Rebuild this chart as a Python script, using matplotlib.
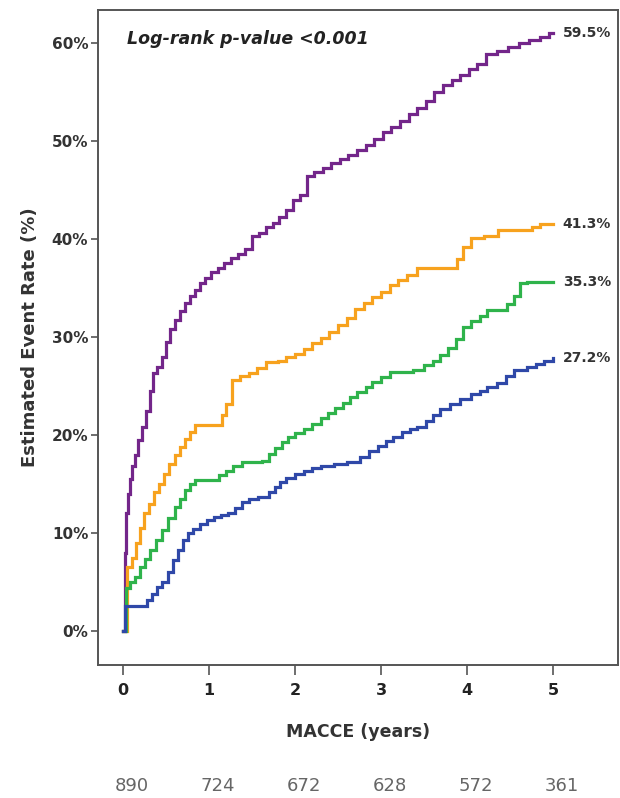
#!/usr/bin/env python3

"""
<file>    plot.py
<brief>   cumulative MACCE event rate by group (KM style step curves)
"""

import matplotlib
matplotlib.use("Agg")
import matplotlib.pyplot as plt
import matplotlib.transforms as mtransforms

# years / estimated event rate (%)
purple_t = [0, 0.02, 0.04, 0.06, 0.08, 0.10, 0.14, 0.18, 0.22, 0.27, 0.31, 0.35, 0.40, 0.45,
            0.50, 0.55, 0.60, 0.66, 0.72, 0.78, 0.84, 0.90, 0.95, 1.02, 1.10, 1.18, 1.26, 1.34,
            1.42, 1.50, 1.58, 1.66, 1.74, 1.82, 1.90, 1.98, 2.06, 2.14, 2.22, 2.32, 2.42, 2.52,
            2.62, 2.72, 2.82, 2.92, 3.02, 3.12, 3.22, 3.32, 3.42, 3.52, 3.62, 3.72, 3.82, 3.92,
            4.02, 4.12, 4.22, 4.35, 4.48, 4.60, 4.72, 4.85, 4.95, 5.0]
purple_p = [0, 8, 12, 14, 15.5, 16.8, 18, 19.5, 20.8, 22.5, 24.5, 26.3, 27, 28,
            29.5, 30.8, 31.8, 32.7, 33.5, 34.2, 34.8, 35.5, 36, 36.6, 37.1, 37.6, 38.1, 38.5,
            39, 40.3, 40.6, 41.2, 41.7, 42.3, 43, 44, 44.5, 46.5, 46.9, 47.3, 47.8, 48.2,
            48.6, 49.1, 49.6, 50.2, 50.9, 51.5, 52.1, 52.8, 53.4, 54.1, 55, 55.7, 56.2, 56.8,
            57.4, 57.9, 58.9, 59.2, 59.6, 60, 60.3, 60.6, 61.1, 61.1]

orange_t = [0, 0.05, 0.10, 0.15, 0.20, 0.25, 0.30, 0.36, 0.42, 0.48, 0.54, 0.60, 0.66, 0.72,
            0.78, 0.84, 1.10, 1.15, 1.20, 1.27, 1.36, 1.46, 1.56, 1.66, 1.80, 1.90, 2.00, 2.10,
            2.20, 2.30, 2.40, 2.50, 2.60, 2.70, 2.80, 2.90, 3.00, 3.10, 3.20, 3.30, 3.42, 3.88,
            3.95, 4.05, 4.20, 4.36, 4.75, 4.85, 5.0]
orange_p = [0, 6.5, 7.5, 9, 10.5, 12, 13, 14.2, 15, 16, 17, 18, 18.8, 19.6,
            20.3, 21, 21, 22, 23.2, 25.6, 26, 26.3, 26.8, 27.5, 27.6, 28, 28.3, 28.8,
            29.4, 29.9, 30.5, 31.2, 32, 32.9, 33.5, 34.1, 34.6, 35.3, 35.8, 36.3, 37.1, 38,
            39.2, 40.1, 40.3, 40.9, 41.2, 41.5, 41.5]

green_t = [0, 0.04, 0.08, 0.14, 0.20, 0.26, 0.32, 0.39, 0.45, 0.52, 0.60, 0.66, 0.72, 0.78,
           0.84, 1.05, 1.12, 1.20, 1.28, 1.38, 1.62, 1.70, 1.77, 1.85, 1.92, 2.00, 2.10, 2.20,
           2.30, 2.38, 2.46, 2.56, 2.64, 2.72, 2.82, 2.90, 3.00, 3.10, 3.37, 3.50, 3.60, 3.69,
           3.78, 3.87, 3.95, 4.05, 4.15, 4.23, 4.47, 4.55, 4.62, 4.70, 5.0]
green_p = [0, 4.4, 5, 5.5, 6.5, 7.3, 8.3, 9.3, 10.3, 11.5, 12.7, 13.5, 14.4, 15,
           15.4, 15.4, 15.9, 16.3, 16.8, 17.3, 17.4, 18.1, 18.7, 19.3, 19.8, 20.2, 20.6, 21.1,
           21.7, 22.3, 22.8, 23.3, 23.9, 24.4, 24.9, 25.4, 25.9, 26.4, 26.6, 27.2, 27.6, 28.2,
           28.9, 29.8, 31, 31.6, 32.2, 32.8, 33.4, 34.2, 35.5, 35.6, 35.6]

blue_t = [0, 0.03, 0.22, 0.28, 0.34, 0.40, 0.46, 0.52, 0.58, 0.64, 0.70, 0.76, 0.82, 0.90,
          0.98, 1.06, 1.14, 1.22, 1.30, 1.38, 1.46, 1.57, 1.70, 1.77, 1.83, 1.90, 2.00, 2.10,
          2.20, 2.30, 2.45, 2.60, 2.76, 2.86, 2.96, 3.06, 3.14, 3.24, 3.34, 3.42, 3.52, 3.60,
          3.69, 3.80, 3.92, 4.05, 4.15, 4.23, 4.35, 4.45, 4.55, 4.70, 4.80, 4.90, 5.0]
blue_p = [0, 2.6, 2.6, 3.2, 3.8, 4.5, 5.0, 6.0, 7.2, 8.3, 9.3, 10.0, 10.4, 10.9,
          11.3, 11.6, 11.8, 12.0, 12.6, 13.2, 13.5, 13.7, 14.2, 14.7, 15.2, 15.6, 16.0, 16.3,
          16.6, 16.8, 17.0, 17.3, 17.8, 18.4, 18.9, 19.4, 19.8, 20.3, 20.6, 20.8, 21.4, 22.0,
          22.7, 23.2, 23.7, 24.2, 24.5, 24.9, 25.3, 26.0, 26.6, 26.9, 27.3, 27.6, 27.9]

end_labels = ["59.5%", "41.3%", "35.3%", "27.2%"]
colors = ["#73268a", "#f7a21e", "#2fb34b", "#2f48a8"]

at_risk_years = [0, 1, 2, 3, 4, 5]
at_risk = [890, 724, 672, 628, 572, 361]

fig = plt.figure(figsize=(6.2, 7.98), dpi=100)
ax = fig.add_axes([0.158, 0.1667, 0.839, 0.8208])

series = [(purple_t, purple_p), (orange_t, orange_p), (green_t, green_p), (blue_t, blue_p)]
for (t, p), c, lab in zip(series, colors, end_labels):
    ax.plot(t, p, drawstyle="steps-post", color=c, lw=2.3, solid_joinstyle="miter")
    ax.annotate(lab, xy=(t[-1], p[-1]), xytext=(7, 0), textcoords="offset points",
                va="center", ha="left", fontsize=10, fontweight="bold", color="#333333")

ax.set_xlim(-0.29, 5.756)
ax.set_ylim(-3.47, 63.4)
ax.set_xticks(at_risk_years)
ax.set_yticks([0, 10, 20, 30, 40, 50, 60])
ax.set_yticklabels(["0%", "10%", "20%", "30%", "40%", "50%", "60%"])

for s in ax.spines.values():
    s.set_color("#555555")
    s.set_linewidth(1.4)
ax.tick_params(axis="y", direction="out", length=5, width=1.2, color="#555555",
               labelsize=11, labelcolor="#333333", pad=2)
ax.tick_params(axis="x", direction="out", length=7, width=1.2, color="#555555",
               labelsize=11.5, labelcolor="#222222", pad=6)
for lbl in ax.get_xticklabels() + ax.get_yticklabels():
    lbl.set_fontweight("bold")

ax.set_ylabel("Estimated Event Rate (%)", fontsize=13, fontweight="bold",
              color="#333333", labelpad=9)
ax.set_xlabel("MACCE (years)", fontsize=12.5, fontweight="bold", color="#333333",
              labelpad=18)

ax.text(0.055, 0.955, "Log-rank p-value <0.001", transform=ax.transAxes, fontsize=12.5,
        fontweight="bold", fontstyle="italic", color="#222222", va="center", ha="left")

# numbers at risk under the x axis
trans = mtransforms.blended_transform_factory(ax.transData, fig.transFigure)
for yr, n in zip(at_risk_years, at_risk):
    fig.text(yr + 0.1, 0.004, str(n), transform=trans, ha="center", va="bottom",
             fontsize=13, color="#666666")

fig.savefig("out.png", dpi=100)
